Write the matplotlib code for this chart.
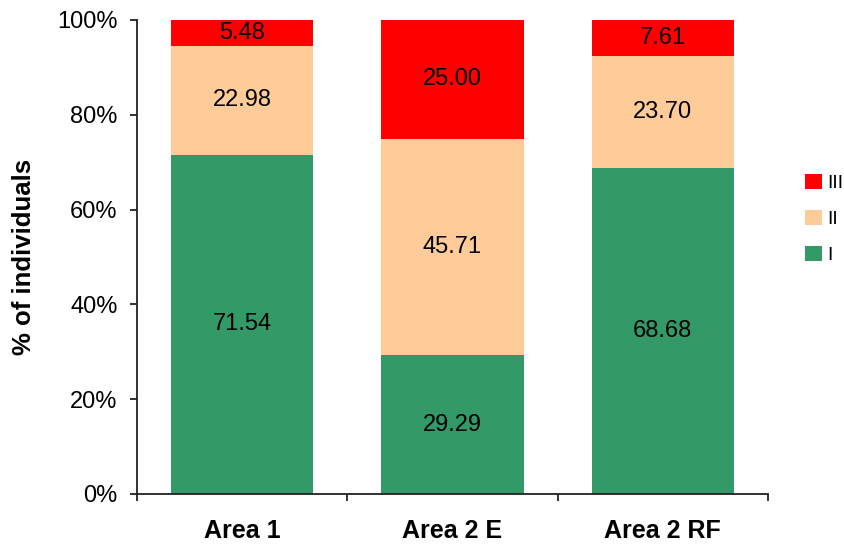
import matplotlib
matplotlib.use("Agg")
import matplotlib.pyplot as plt
import numpy as np

plt.rcParams['font.family'] = ['Liberation Sans', 'DejaVu Sans']

# share of individuals per class, %
areas = ['Area 1', 'Area 2 E', 'Area 2 RF']
class_names = ['I', 'II', 'III']
class_I = [71.54, 29.29, 68.68]
class_II = [22.98, 45.71, 23.70]
class_III = [5.48, 25.00, 7.61]
colors = ['#339966', '#FFCC99', '#FF0000']

fig = plt.figure(figsize=(8.45, 5.48), dpi=100)
ax = fig.add_axes([137 / 845, 54 / 548, 631 / 845, 474 / 548])

x = np.arange(len(areas))
bottom = np.zeros(len(areas))
bars = []
for vals, name, col in zip([class_I, class_II, class_III], class_names, colors):
    b = ax.bar(x, vals, width=0.677, bottom=bottom, color=col, label=name, linewidth=0)
    for xi, v, b0 in zip(x, vals, bottom):
        ax.text(xi, b0 + v / 2, f'{v:.2f}', ha='center', va='center', fontsize=17, color='black')
    bottom += np.array(vals)
    bars.append(b)

ax.set_xlim(-0.5, 2.5)
ax.set_ylim(0, 100)
ax.set_yticks(range(0, 101, 20))
ax.set_yticklabels([f'{v}%' for v in range(0, 101, 20)], fontsize=17)
ax.set_xticks(x)
ax.set_xticklabels(areas, fontsize=18, fontweight='bold')
ax.set_xticks([-0.5, 0.5, 1.5, 2.5], minor=True)
ax.tick_params(axis='x', which='major', length=0, pad=18)
ax.tick_params(axis='x', which='minor', length=5, width=1.3, direction='out', color='#222222')
ax.tick_params(axis='y', length=5, width=1.3, direction='out', pad=9, color='#222222')

for s in ['top', 'right']:
    ax.spines[s].set_visible(False)
for s in ['left', 'bottom']:
    ax.spines[s].set_linewidth(1.3)
    ax.spines[s].set_color('#222222')

ax.set_ylabel('% of individuals', fontsize=18.5, fontweight='bold')
ax.yaxis.set_label_coords(-0.160, 0.5)

# legend squeezed against the right edge, top class first
handles = bars[::-1]
labels = class_names[::-1]
fig.legend(handles, labels, loc='center left', bbox_to_anchor=(805 / 845, 0.600),
           frameon=False, fontsize=14, handlelength=0.85, handleheight=0.85,
           handletextpad=0.3, labelspacing=0.9, borderpad=0, borderaxespad=0)

fig.savefig('out.png', dpi=100)
